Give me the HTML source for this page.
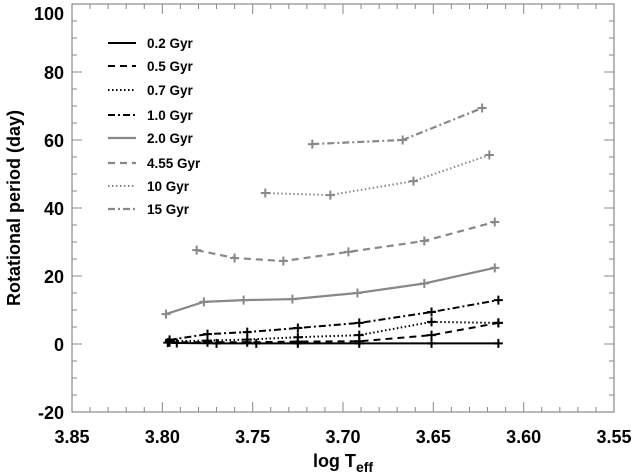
<!DOCTYPE html>
<html><head><meta charset="utf-8"><style>
body{margin:0;background:#fff;}
svg{display:block;font-family:"Liberation Sans",Arial,sans-serif;font-weight:bold;}
</style></head><body>
<svg id="c" width="635" height="474" viewBox="0 0 635 474"></svg>
<script>
const xTicks=[3.85,3.80,3.75,3.70,3.65,3.60,3.55];
const yTicks=[-20,0,20,40,60,80,100];
const seriesNames=["0.2 Gyr","0.5 Gyr","0.7 Gyr","1.0 Gyr","2.0 Gyr","4.55 Gyr","10 Gyr","15 Gyr"];
const x02=[3.797,3.792,3.770,3.748,3.725,3.691,3.651,3.614];
const y02=[0.4,0.3,0.2,0.2,0.2,0.2,0.2,0.2];
const xLow=[3.796,3.775,3.753,3.725,3.691,3.651,3.614];
const y05=[0.5,0.5,0.5,0.7,0.8,2.6,6.2];
const y07=[0.8,1.0,1.3,2.0,2.6,6.5,6.2];
const y10=[1.2,2.9,3.5,4.7,6.2,9.4,12.9];
const x20=[3.798,3.777,3.755,3.728,3.692,3.655,3.616];
const y20=[8.8,12.4,12.9,13.2,15.0,17.8,22.4];
const x455=[3.781,3.760,3.733,3.697,3.655,3.616];
const y455=[27.6,25.3,24.4,27.1,30.3,35.9];
const x10g=[3.743,3.707,3.661,3.619];
const y10g=[44.4,43.8,47.9,55.6];
const x15=[3.717,3.667,3.623];
const y15=[58.8,60.0,69.4];

const L=72,R=614,T=4,B=412;
const sx=v=>L+(3.85-v)/0.30*(R-L);
const sy=v=>B-(v+20)/120*(B-T);
const NS="http://www.w3.org/2000/svg";
const svg=document.getElementById('c');
function mk(t,a,p){const e=document.createElementNS(NS,t);for(const k in a)e.setAttribute(k,a[k]);(p||svg).appendChild(e);return e;}

const frame=mk('rect',{x:L,y:T,width:R-L,height:B-T,fill:'none',stroke:'#888','stroke-width':1.2});



for(let i=0;i<=30;i++){const v=3.85-i*0.01;const x=sx(v);const maj=i%5===0;const len=maj?10:5;
 mk('line',{x1:x,y1:B,x2:x,y2:B-len,stroke:'#888','stroke-width':1});
 mk('line',{x1:x,y1:T,x2:x,y2:T+len,stroke:'#888','stroke-width':1});}
for(let v=-20;v<=100;v+=5){const y=sy(v);const maj=v%20===0;const len=maj?10:5;
 mk('line',{x1:L,y1:y,x2:L+len,y2:y,stroke:'#888','stroke-width':1});
 mk('line',{x1:R,y1:y,x2:R-len,y2:y,stroke:'#888','stroke-width':1});}

xTicks.forEach(v=>{const t=mk('text',{x:sx(v),y:443,'text-anchor':'middle','font-size':18,fill:'#000'});t.textContent=v.toFixed(2);
 
 });
yTicks.forEach(v=>{const t=mk('text',{x:64,y:Math.max(20,sy(v)+7),'text-anchor':'end','font-size':18,fill:'#000'});t.textContent=String(v);
 
 });

const xt=mk('text',{x:343,y:467,'text-anchor':'middle','font-size':18,fill:'#000'});
xt.innerHTML='log T<tspan dy="5" font-size="14">eff</tspan>';


const yt=mk('text',{x:0,y:0,'text-anchor':'middle','font-size':18,fill:'#000',transform:'translate(20,208) rotate(-90)'});
yt.textContent='Rotational period (day)';



const styles=[
 {c:'#000',d:'',w:2},{c:'#000',d:'7,5',w:2},{c:'#000',d:'1.5,2.5',w:2},{c:'#000',d:'7,3,2,3',w:2},
 {c:'#888',d:'',w:2.2},{c:'#888',d:'7,5',w:2.2},{c:'#888',d:'1.5,2.5',w:2},{c:'#888',d:'7,3,2,3',w:2.2}];
const data=[[x02,y02],[xLow,y05],[xLow,y07],[xLow,y10],[x20,y20],[x455,y455],[x10g,y10g],[x15,y15]];
data.forEach((s,i)=>{const st=styles[i];const g=mk('g',{});
 
 
 const pts=s[0].map((xv,j)=>sx(xv)+','+sy(s[1][j])).join(' ');
 mk('polyline',{points:pts,fill:'none',stroke:st.c,'stroke-width':st.w,'stroke-dasharray':st.d},g);
 s[0].forEach((xv,j)=>{const x=sx(xv),y=sy(s[1][j]);
  const p=mk('path',{d:`M${x-4.5},${y}H${x+4.5}M${x},${y-4.5}V${y+4.5}`,stroke:st.c,'stroke-width':2},g);
  
  });
 const ly=[43,66,90,115,138,163,186,209][i];
 const lg=mk('g',{});
 
 
 mk('line',{x1:108,y1:ly,x2:136,y2:ly,stroke:st.c,'stroke-width':st.w,'stroke-dasharray':st.d},lg);
 const t=mk('text',{x:147,y:ly+5,'font-size':13.5,fill:'#000'},lg);t.textContent=seriesNames[i];
});
</script>
</body></html>
